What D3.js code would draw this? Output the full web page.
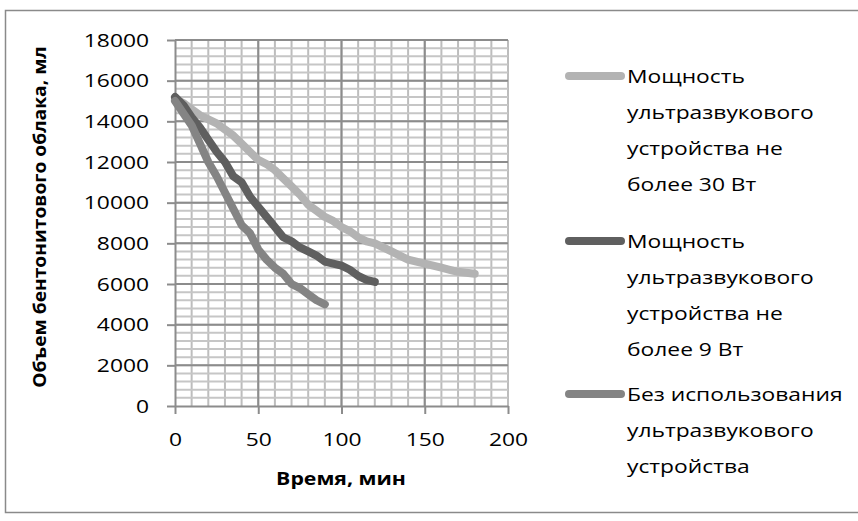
<!DOCTYPE html>
<html>
<head>
<meta charset="utf-8">
<script src="https://cdn.jsdelivr.net/npm/d3@7"></script>
<style>
  body { margin: 0; background: #fff; }
  text { font-family: "Open Sans", sans-serif; fill: #000; }
</style>
</head>
<body>
<div id="chart"></div>
<script>
// data
const timeW30 = [0,5,10,15,20,25,30,35,40,45,50,55,60,65,70,75,80,85,90,95,100,105,110,115,120,125,130,135,140,145,150,155,160,165,170,175,180];
const volW30 = [15100,14900,14600,14300,14100,13900,13600,13300,12900,12500,12100,11900,11600,11200,10800,10400,9900,9600,9300,9100,8800,8600,8300,8100,8000,7800,7600,7400,7200,7100,7000,6900,6800,6700,6600,6550,6500];

const timeW9 = [0,5,10,15,20,25,30,35,40,45,50,55,60,65,70,75,80,85,90,95,100,105,110,115,120];
const volW9 = [15200,14800,14200,13700,13100,12500,12000,11300,11000,10300,9800,9300,8800,8300,8100,7800,7600,7400,7100,7000,6900,6700,6400,6200,6100];

const timeNone = [0,5,10,15,20,25,30,35,40,45,50,55,60,65,70,75,80,85,90];
const volNone = [15000,14400,13800,12900,12000,11300,10500,9700,8900,8500,7700,7200,6800,6500,6000,5800,5500,5200,5000];

const seriesNames = [
    ["Мощность", "ультразвукового", "устройства не", "более 30 Вт"],
    ["Мощность", "ультразвукового", "устройства не", "более 9 Вт"],
    ["Без использования", "ультразвукового", "устройства"]
];
const seriesColors = ["#b3b3b3", "#5f5f5f", "#848484"];

const xTicks = [0, 50, 100, 150, 200];
const yTicks = [0, 2000, 4000, 6000, 8000, 10000, 12000, 14000, 16000, 18000];
const xTitle = "Время, мин";
const yTitle = "Объем бентонитового облака, мл";

// widen text a bit, the original font is wider than Open Sans;
// keep the anchor point where it was
function stretch(sel, k) {
    sel.each(function () {
        const anchor = getComputedStyle(this).textAnchor || d3.select(this).attr("text-anchor");
        const b0 = this.getBBox();
        const len = this.getComputedTextLength();
        const t = d3.select(this)
            .attr("textLength", len * k)
            .attr("lengthAdjust", "spacingAndGlyphs");
        const b1 = this.getBBox();
        let shift = 0;
        if (anchor === "middle") shift = (b0.x + b0.width / 2) - (b1.x + b1.width / 2);
        else if (anchor === "end") shift = (b0.x + b0.width) - (b1.x + b1.width);
        else shift = b0.x - b1.x;
        const dx = parseFloat(t.attr("dx")) || 0;
        t.attr("dx", dx + shift);
    });
}

function drawChart() {

    const W = 858, H = 521;

    const svg = d3.select("#chart")
        .append("svg")
        .attr("width", W)
        .attr("height", H);

    // outer frame
    svg.append("rect")
        .attr("x", 5.5).attr("y", 10.5)
        .attr("width", 870).attr("height", 502)
        .attr("fill", "none")
        .attr("stroke", "#8a8a8a")
        .attr("stroke-width", 1.5);

    const x = d3.scaleLinear().domain([0, 200]).range([175, 508]);
    const y = d3.scaleLinear().domain([0, 18000]).range([406, 40]);

    // minor grid
    const grid = svg.append("g");
    grid.selectAll(".vminor")
        .data(d3.range(10, 201, 10))
        .join("line")
        .attr("x1", d => x(d)).attr("x2", d => x(d))
        .attr("y1", y(18000)).attr("y2", y(0))
        .attr("stroke", "#bdbdbd").attr("stroke-width", 2);
    grid.selectAll(".hminor")
        .data(d3.range(400, 18001, 400))
        .join("line")
        .attr("x1", x(0)).attr("x2", x(200))
        .attr("y1", d => y(d)).attr("y2", d => y(d))
        .attr("stroke", "#c6c6c6").attr("stroke-width", 2);

    // major grid
    grid.selectAll(".vmajor")
        .data(xTicks.slice(1, 4))
        .join("line")
        .attr("x1", d => x(d)).attr("x2", d => x(d))
        .attr("y1", y(18000)).attr("y2", y(0))
        .attr("stroke", "#8c8c8c").attr("stroke-width", 2);
    grid.selectAll(".hmajor")
        .data(yTicks.slice(1))
        .join("line")
        .attr("x1", x(0)).attr("x2", x(200))
        .attr("y1", d => y(d)).attr("y2", d => y(d))
        .attr("stroke", "#8c8c8c").attr("stroke-width", 2);

    // axes
    const xAxis = svg.append("g")
        .attr("transform", `translate(0,${y(0)})`)
        .call(d3.axisBottom(x).tickValues(xTicks).tickSize(8).tickPadding(19).tickSizeOuter(0));
    const yAxis = svg.append("g")
        .attr("transform", `translate(${x(0)},0)`)
        .call(d3.axisLeft(y).tickValues(yTicks).tickSize(8).tickPadding(18).tickSizeOuter(0)
            .tickFormat(d3.format("d")));

    [xAxis, yAxis].forEach(a => {
        a.select(".domain").attr("stroke", "#8c8c8c").attr("stroke-width", 2);
        a.selectAll(".tick line").attr("stroke", "#8c8c8c").attr("stroke-width", 2);
        a.selectAll("text").attr("font-size", 19).attr("font-family", "Open Sans");
        stretch(a.selectAll("text"), 1.2);
    });

    // series
    const series = [
        d3.zip(timeW30, volW30),
        d3.zip(timeW9, volW9),
        d3.zip(timeNone, volNone)
    ];
    const line = d3.line().x(d => x(d[0])).y(d => y(d[1]));

    svg.selectAll(".series")
        .data(series)
        .join("path")
        .attr("fill", "none")
        .attr("stroke", (d, i) => seriesColors[i])
        .attr("stroke-width", 8)
        .attr("stroke-linejoin", "round")
        .attr("stroke-linecap", "round")
        .attr("d", line);

    // axis titles
    const xt = svg.append("text")
        .attr("x", 341).attr("y", 485)
        .attr("text-anchor", "middle")
        .attr("font-weight", "bold")
        .attr("font-size", 17)
        .text(xTitle);
    stretch(xt, 1.25);
    const yt = svg.append("text")
        .attr("transform", "translate(46,217) rotate(-90)")
        .attr("text-anchor", "middle")
        .attr("font-weight", "bold")
        .attr("font-size", 17)
        .text(yTitle);
    stretch(yt, 1.13);

    // legend
    const legend = svg.append("g");
    const legendTop = [76, 241, 394];
    seriesNames.forEach((lines, i) => {
        const g = legend.append("g").attr("transform", `translate(0,${legendTop[i]})`);
        g.append("line")
            .attr("x1", 569).attr("x2", 621)
            .attr("stroke", seriesColors[i])
            .attr("stroke-width", 8)
            .attr("stroke-linecap", "round");
        const t = g.selectAll("text")
            .data(lines)
            .join("text")
            .attr("x", 627)
            .attr("y", (d, j) => j * 36 + 7)
            .attr("font-size", 19)
            .text(d => d);
        stretch(t, 1.2);
    });
}

drawChart();
</script>
</body>
</html>
